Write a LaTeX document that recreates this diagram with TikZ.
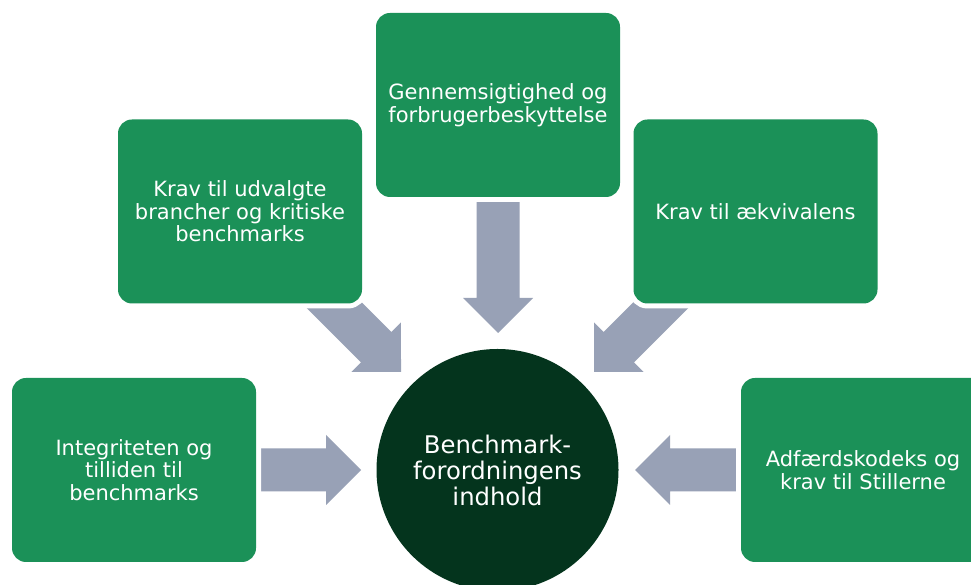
\documentclass[tikz,border=0pt]{standalone}
\usepackage{fontspec}
\setmainfont{DejaVu Sans}
\usetikzlibrary{calc,backgrounds}
\definecolor{boxgreen}{RGB}{27,145,88}
\definecolor{darkgreen}{RGB}{4,52,29}
\definecolor{arrowgray}{RGB}{152,161,182}
\def\aSW{21.5}
\def\aHW{35}
\def\aHL{35}
\tikzset{
  topicbox/.style={rectangle, rounded corners=14pt, minimum width=244pt, minimum height=184pt,
    inner sep=0pt, fill=boxgreen, text=white, align=center,
    font=\fontsize{21}{22.5}\selectfont, preaction={draw=white, line width=10pt}},
  corecircle/.style={circle, minimum size=242pt, inner sep=0pt, fill=darkgreen, text=white,
    align=center, font=\fontsize{24.3}{26}\selectfont},
  blockarr/.style={fill=arrowgray, to path={
    let \p1=(\tikztostart), \p2=(\tikztotarget),
        \n1={atan2(\y2-\y1,\x2-\x1)}, \n2={veclen(\x2-\x1,\y2-\y1)-\aHL} in
    ($(\p1)+(\n1+90:\aSW)$) -- ($(\p1)+(\n1:\n2)+(\n1+90:\aSW)$)
    -- ($(\p1)+(\n1:\n2)+(\n1+90:\aHW)$) -- (\p2)
    -- ($(\p1)+(\n1:\n2)+(\n1-90:\aHW)$) -- ($(\p1)+(\n1:\n2)+(\n1-90:\aSW)$)
    -- ($(\p1)+(\n1-90:\aSW)$) -- cycle}}
}
\begin{document}
\begin{tikzpicture}[x=1pt, y=1pt]
  \useasboundingbox (0,0) rectangle (971,585);
  \clip (0,0) rectangle (971,585);

  \node[topicbox] (top) at (498,480) {Gennemsigtighed og\\forbrugerbeskyttelse};
  \node[topicbox] (ul) at (240,373.5) {Krav til udvalgte\\brancher og kritiske\\benchmarks};
  \node[topicbox] (ur) at (755.5,373.5) {Krav til ækvivalens};
  \node[topicbox] (ll) at (134,115) {Integriteten og\\tilliden til\\benchmarks};
  \node[topicbox] (lr) at (863,115) {Adfærdskodeks og\\krav til Stillerne};
  \node[corecircle] (core) at (497.5,115) {Benchmark-\\forordningens\\indhold};

  \coordinate (topTip) at (498,252);
  \coordinate (ulTail) at (309,305);
  \coordinate (ulTip) at (401,213);
  \coordinate (urTail) at (686,305);
  \coordinate (urTip) at (594,213);
  \coordinate (llTip) at (361,115);
  \coordinate (lrTip) at (635,115);

  \begin{scope}[on background layer]
    \fill[white] (0,0) rectangle (971,585);
    \path[blockarr] (top.south) to (topTip);
    \path[blockarr] (ulTail) to (ulTip);
    \path[blockarr] (urTail) to (urTip);
    \path[blockarr] (ll.east) to (llTip);
    \path[blockarr] (lr.west) to (lrTip);
  \end{scope}
\end{tikzpicture}
\end{document}
